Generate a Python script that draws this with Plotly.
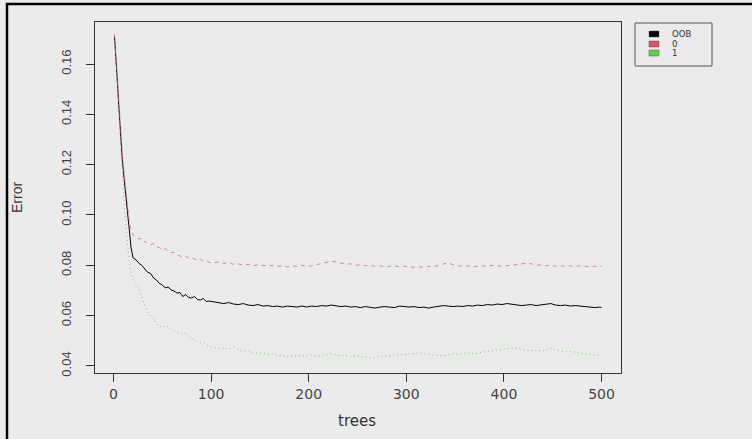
import plotly.graph_objects as go

# ---------------- data ----------------
trees = (list(range(1, 21)) + list(range(23, 99, 3))
         + list(range(103, 500, 5)) + [500])

oob = [
    0.171, 0.166, 0.160, 0.153, 0.146, 0.139, 0.133, 0.127, 0.122, 0.118,
    0.114, 0.109, 0.105, 0.101, 0.097, 0.094, 0.090, 0.087, 0.085, 0.083,
    # 23..98 step 3
    0.0822, 0.0808, 0.0800, 0.0786, 0.0772, 0.0768, 0.0750, 0.0742, 0.0728, 0.0722,
    0.0710, 0.0714, 0.0702, 0.0698, 0.0690, 0.0692, 0.0676, 0.0684, 0.0672, 0.0670,
    0.0676, 0.0664, 0.0662, 0.0668, 0.0656, 0.0658,
    # 103..498 step 5
    0.0654, 0.0650, 0.0648, 0.0652, 0.0646, 0.0644, 0.0648, 0.0642, 0.0640, 0.0644,
    0.0638, 0.0640, 0.0636, 0.0638, 0.0634, 0.0638, 0.0636, 0.0634, 0.0638, 0.0634,
    0.0638, 0.0636, 0.0640, 0.0638, 0.0642, 0.0640, 0.0636, 0.0638, 0.0634, 0.0636,
    0.0632, 0.0636, 0.0634, 0.0630, 0.0634, 0.0636, 0.0634, 0.0632, 0.0638, 0.0636,
    0.0634, 0.0636, 0.0632, 0.0634, 0.0630, 0.0634, 0.0636, 0.0640, 0.0638, 0.0636,
    0.0638, 0.0636, 0.0640, 0.0638, 0.0642, 0.0640, 0.0644, 0.0642, 0.0646, 0.0644,
    0.0648, 0.0646, 0.0644, 0.0640, 0.0642, 0.0644, 0.0640, 0.0642, 0.0646, 0.0648,
    0.0642, 0.0640, 0.0642, 0.0638, 0.0640, 0.0638, 0.0636, 0.0634, 0.0632, 0.0634,
    # 500
    0.0632,
]

err0 = [
    0.172, 0.167, 0.161, 0.155, 0.148, 0.141, 0.135, 0.130, 0.125, 0.120,
    0.116, 0.112, 0.108, 0.104, 0.101, 0.098, 0.096, 0.094, 0.093, 0.092,
    0.0916, 0.0904, 0.0908, 0.0894, 0.0888, 0.0882, 0.0886, 0.0874, 0.0870, 0.0862,
    0.0866, 0.0856, 0.0850, 0.0852, 0.0842, 0.0838, 0.0832, 0.0836, 0.0828, 0.0830,
    0.0824, 0.0820, 0.0824, 0.0816, 0.0818, 0.0812,
    0.0810, 0.0814, 0.0808, 0.0810, 0.0804, 0.0806, 0.0800, 0.0804, 0.0798, 0.0802,
    0.0800, 0.0796, 0.0800, 0.0796, 0.0798, 0.0794, 0.0798, 0.0796, 0.0800, 0.0796,
    0.0798, 0.0802, 0.0806, 0.0812, 0.0816, 0.0814, 0.0808, 0.0804, 0.0806, 0.0800,
    0.0802, 0.0798, 0.0800, 0.0796, 0.0798, 0.0794, 0.0796, 0.0798, 0.0794, 0.0796,
    0.0794, 0.0792, 0.0794, 0.0792, 0.0796, 0.0794, 0.0800, 0.0806, 0.0810, 0.0802,
    0.0798, 0.0796, 0.0798, 0.0794, 0.0796, 0.0798, 0.0796, 0.0800, 0.0798, 0.0796,
    0.0798, 0.0800, 0.0802, 0.0804, 0.0808, 0.0806, 0.0800, 0.0802, 0.0798, 0.0800,
    0.0796, 0.0798, 0.0796, 0.0798, 0.0796, 0.0798, 0.0796, 0.0794, 0.0796, 0.0794,
    0.0796,
]

err1 = [
    0.171, 0.165, 0.158, 0.151, 0.144, 0.137, 0.130, 0.123, 0.117, 0.111,
    0.105, 0.099, 0.094, 0.089, 0.085, 0.082, 0.079, 0.077, 0.0755, 0.0745,
    0.0728, 0.0712, 0.0676, 0.0640, 0.0614, 0.0598, 0.0590, 0.0566, 0.0558, 0.0552,
    0.0560, 0.0556, 0.0546, 0.0540, 0.0532, 0.0530, 0.0524, 0.0534, 0.0518, 0.0508,
    0.0504, 0.0496, 0.0492, 0.0494, 0.0484, 0.0478,
    0.0474, 0.0468, 0.0472, 0.0466, 0.0476, 0.0464, 0.0458, 0.0460, 0.0454, 0.0450,
    0.0452, 0.0446, 0.0448, 0.0442, 0.0444, 0.0436, 0.0440, 0.0438, 0.0442, 0.0440,
    0.0444, 0.0438, 0.0442, 0.0446, 0.0448, 0.0444, 0.0440, 0.0442, 0.0438, 0.0440,
    0.0436, 0.0438, 0.0430, 0.0434, 0.0440, 0.0438, 0.0442, 0.0444, 0.0446, 0.0444,
    0.0448, 0.0450, 0.0452, 0.0448, 0.0446, 0.0444, 0.0442, 0.0440, 0.0444, 0.0448,
    0.0446, 0.0450, 0.0452, 0.0448, 0.0452, 0.0456, 0.0458, 0.0460, 0.0464, 0.0466,
    0.0468, 0.0472, 0.0470, 0.0466, 0.0464, 0.0460, 0.0462, 0.0458, 0.0464, 0.0472,
    0.0462, 0.0460, 0.0456, 0.0458, 0.0454, 0.0452, 0.0448, 0.0446, 0.0444, 0.0440,
    0.0436,
]

series_names = ["OOB", "0", "1"]
x_ticks = [0, 100, 200, 300, 400, 500]
y_ticks = [0.04, 0.06, 0.08, 0.10, 0.12, 0.14, 0.16]
y_tick_labels = ["0.04", "0.06", "0.08", "0.10", "0.12", "0.14", "0.16"]

# ---------------- styling ----------------
W, H = 752, 439
L, R, T, B = 95, 621, 22, 373
BG = "#EBEBEB"
AX = "#333333"
colors = ["#000000", "#DF536B", "#61D04F"]
line_colors = ["#000000", "rgba(214,110,140,0.85)", "rgba(110,190,100,0.85)"]
dashes = ["solid", "4px,4px", "1px,3px"]


def px(x):
    return (x - L) / (R - L)


def py(y):
    return (B - y) / (B - T)


fig = go.Figure()
for name, vals, c, d in zip(series_names, [oob, err0, err1], line_colors, dashes):
    fig.add_trace(go.Scatter(x=trees, y=vals, mode="lines", name=name,
                             line=dict(color=c, width=1, dash=d),
                             showlegend=False))

axis_common = dict(showgrid=False, zeroline=False, showline=True, mirror=True,
                   linecolor=AX, linewidth=1, ticks="outside", ticklen=8,
                   tickcolor=AX, tickwidth=1)

fig.update_xaxes(range=[-18.96, 519.96], tickvals=x_ticks,
                 tickfont=dict(family="DejaVu Sans", size=14, color="#444444"),
                 ticklabelstandoff=0, **axis_common)
fig.update_yaxes(range=[0.0372, 0.1767], tickvals=y_ticks, ticktext=y_tick_labels,
                 tickangle=-90,
                 tickfont=dict(family="Liberation Sans", size=13, color="#444444"),
                 ticklabelstandoff=10, **axis_common)

shapes = [
    # outer frame (left and top edges)
    dict(type="line", xref="paper", yref="paper", x0=px(7), x1=px(7),
         y0=py(440), y1=py(3), line=dict(color="black", width=2.5)),
    dict(type="line", xref="paper", yref="paper", x0=px(6), x1=px(753),
         y0=py(4), y1=py(4), line=dict(color="black", width=2.5)),
    # legend box
    dict(type="rect", xref="paper", yref="paper", x0=px(635), x1=px(712),
         y0=py(66), y1=py(23), line=dict(color="#555555", width=1)),
]
annotations = []
leg_y = [34, 44, 53]
for name, c, yy in zip(series_names, colors, leg_y):
    shapes.append(dict(type="rect", xref="paper", yref="paper",
                       x0=px(649), x1=px(659), y0=py(yy + 3), y1=py(yy - 3),
                       line=dict(color="#555555", width=0.5), fillcolor=c))
    annotations.append(dict(xref="paper", yref="paper", x=px(671), y=py(yy),
                            text=name, showarrow=False, xanchor="left",
                            yanchor="middle", borderpad=0,
                            font=dict(family="DejaVu Sans", size=8.5, color="#333333")))

annotations.append(dict(xref="paper", yref="paper", x=px(357), y=py(421),
                        text="trees", showarrow=False, xanchor="center",
                        yanchor="middle",
                        font=dict(family="DejaVu Sans", size=15, color="#333333")))
annotations.append(dict(xref="paper", yref="paper", x=px(17), y=py(198),
                        text="Error", showarrow=False, textangle=-90,
                        xanchor="center", yanchor="middle",
                        font=dict(family="Liberation Sans", size=14, color="#333333")))

fig.update_layout(width=W, height=H, paper_bgcolor=BG, plot_bgcolor=BG,
                  margin=dict(l=L, r=W - R, t=T, b=H - B, pad=0),
                  shapes=shapes, annotations=annotations, showlegend=False)

fig.write_html("out.html",
               config={"displayModeBar": False},
               post_script="document.body.style.margin='0';"
                           "document.body.style.overflow='hidden';")
